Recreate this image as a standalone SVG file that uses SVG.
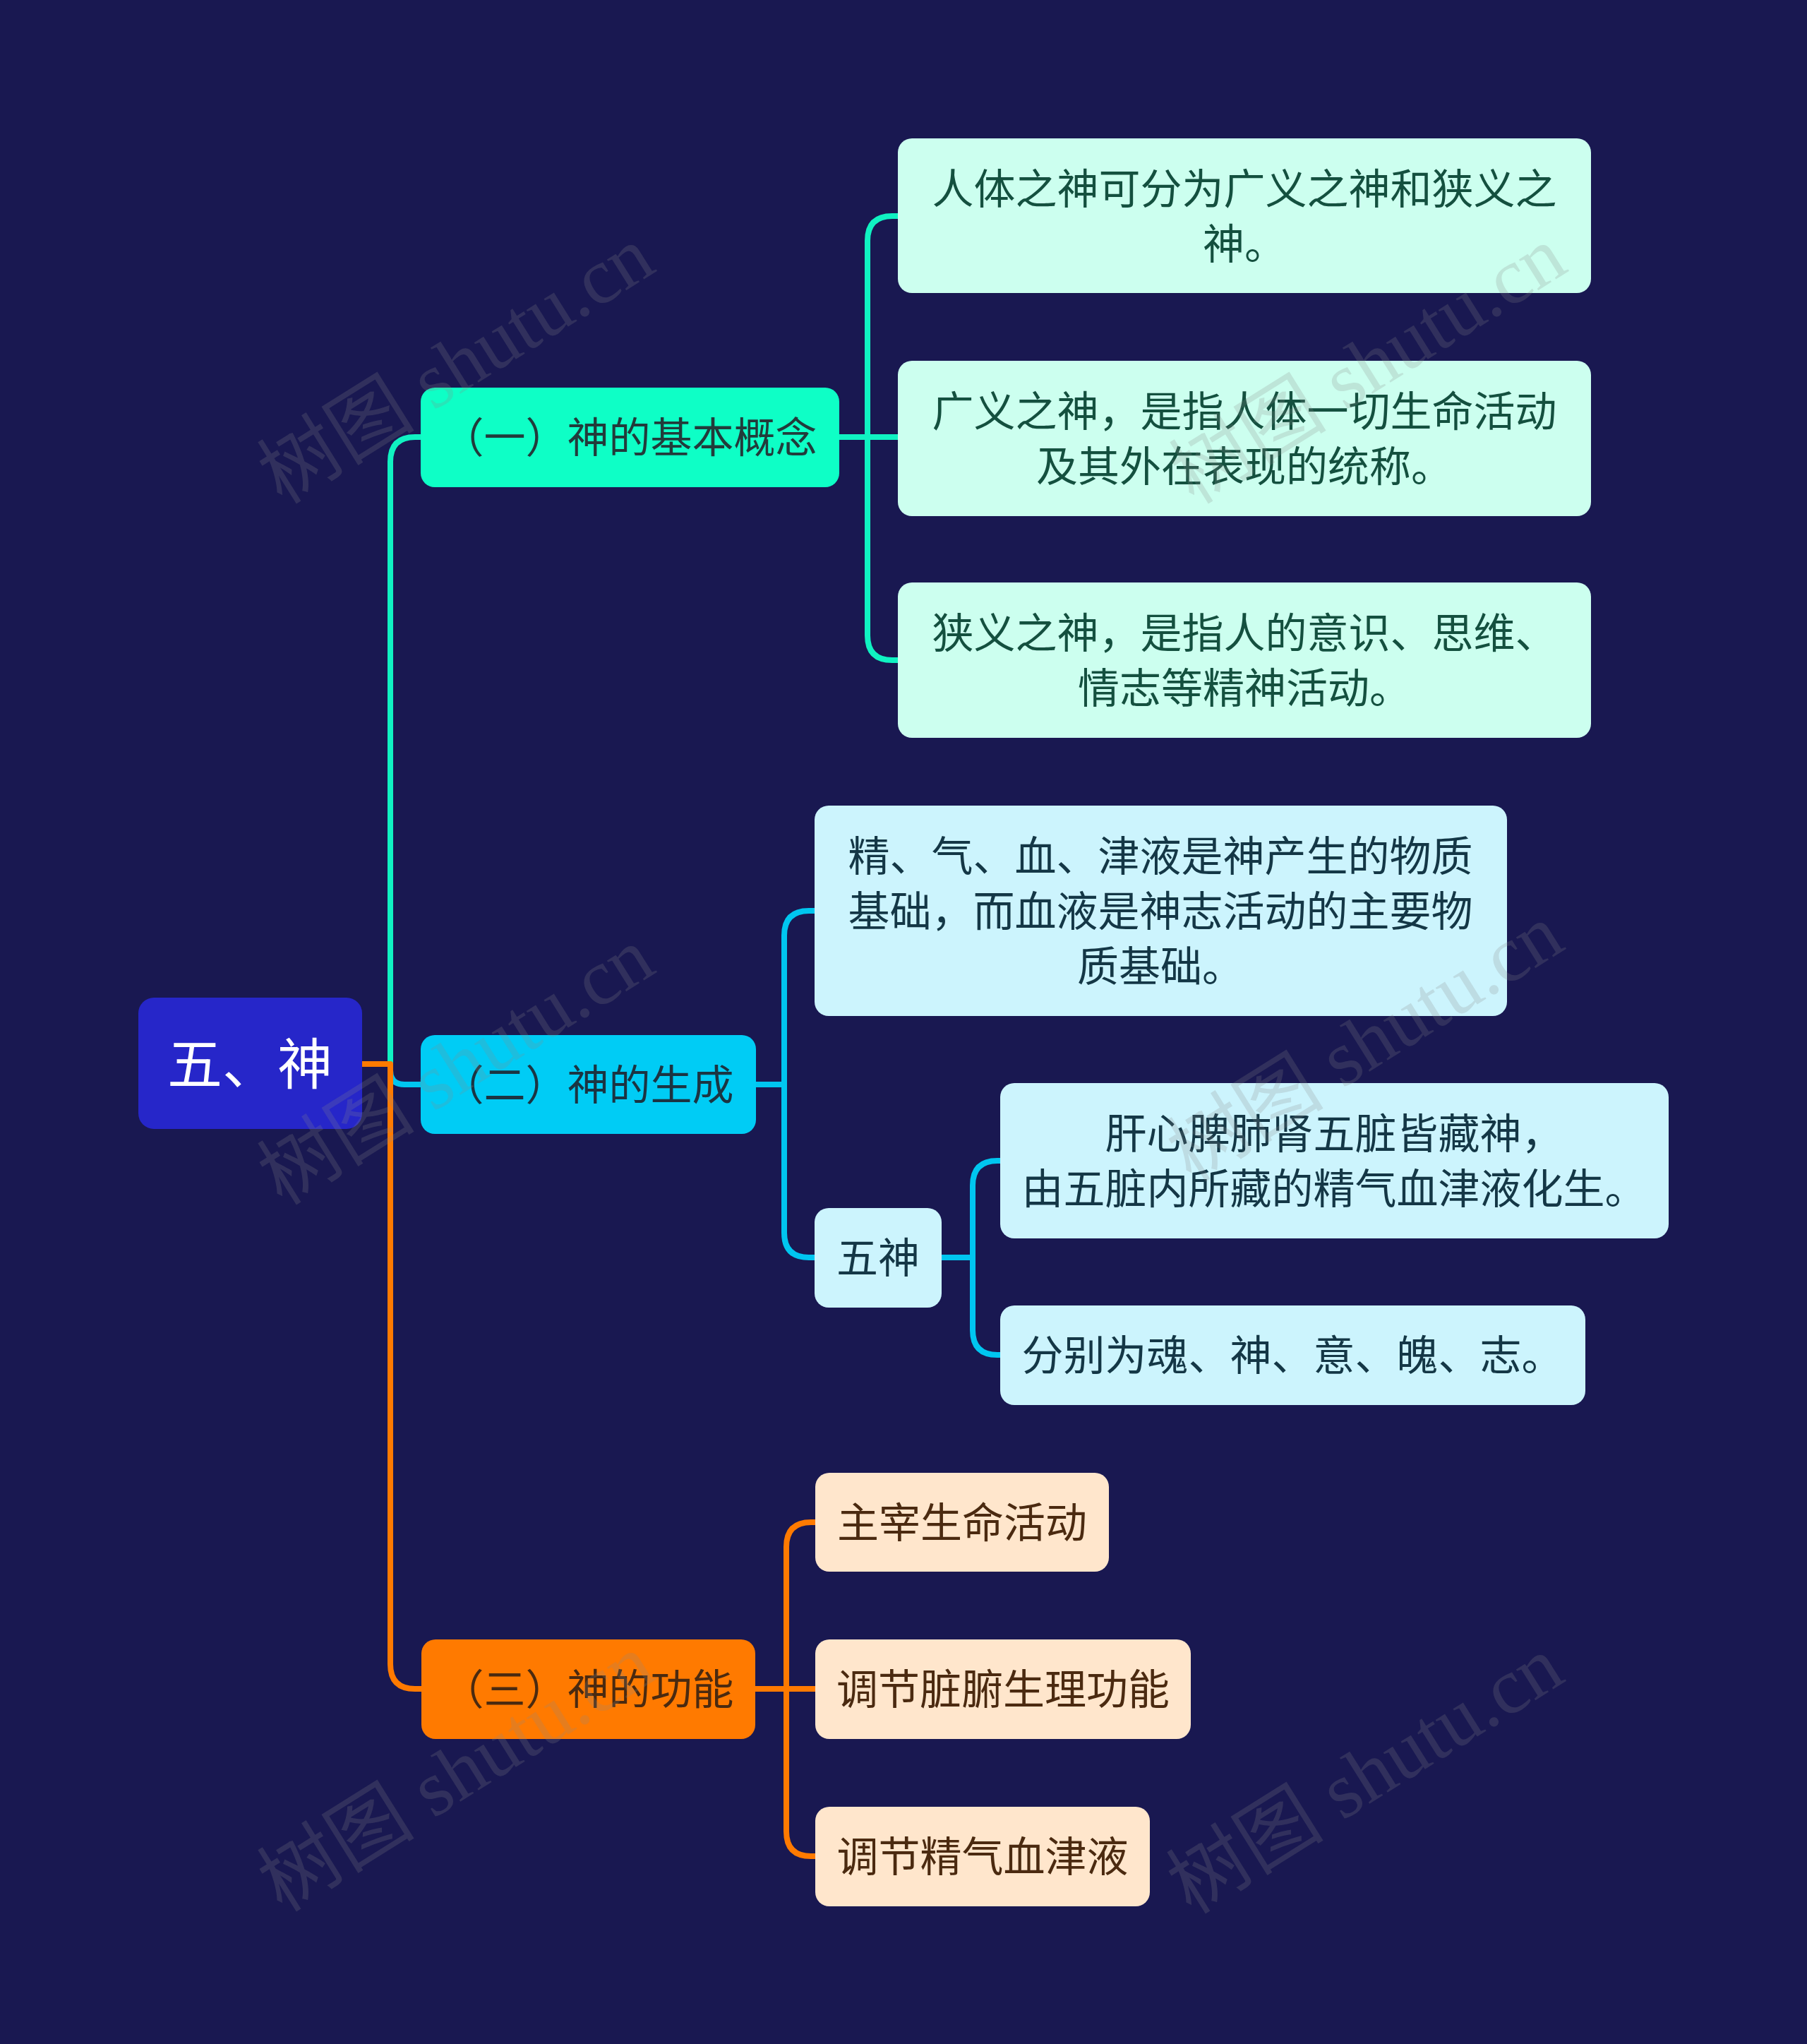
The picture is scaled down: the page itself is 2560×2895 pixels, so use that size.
<svg xmlns="http://www.w3.org/2000/svg" width="2560" height="2895" viewBox="0 0 2560 2895">
<style>
text{font-family:"Noto Sans CJK SC","Noto Sans",sans-serif;text-anchor:middle;dominant-baseline:central}
.c{fill:none;stroke-width:8;stroke-linejoin:round}
.t1{fill:#0EFFC6}.t2{fill:#00CCF5}.t3{fill:#FF7A00}
.l1{fill:#CCFFEF}.l2{fill:#CCF4FD}.l3{fill:#FFE6CC}
.x1{fill:#14503F;font-size:59px}.x2{fill:#143746;font-size:59px}.x3{fill:#4B2A10;font-size:59px}
.wm{font-family:"Liberation Serif","Noto Sans CJK SC",serif;font-size:112px;fill:#8a8a8a;fill-opacity:0.22}
</style>
<rect width="2560" height="2895" fill="#191851"/>
<g id="connectors">
<path class="c" stroke="#10F2C2" d="M513,1507H553V654Q553,619 588,619H596"/>
<path class="c" stroke="#00C6F0" d="M513,1507H553V1516Q553,1536 573,1536H596"/>
<path class="c" stroke="#FF7A00" d="M513,1507H553V2357Q553,2392 588,2392H597"/>
<path class="c" stroke="#10F2C2" d="M1189,619H1229V341Q1229,306 1264,306H1272M1189,619H1272M1229,619V900Q1229,935 1264,935H1272"/>
<path class="c" stroke="#00C6F0" d="M1071,1536H1111V1325Q1111,1290 1146,1290H1154M1111,1536V1746Q1111,1781 1146,1781H1154"/>
<path class="c" stroke="#00C6F0" d="M1334,1781H1378V1679Q1378,1644 1413,1644H1417M1378,1781V1884Q1378,1919 1413,1919H1417"/>
<path class="c" stroke="#FF7A00" d="M1070,2392H1114V2191Q1114,2156 1149,2156H1155M1070,2392H1155M1114,2392V2594Q1114,2629 1149,2629H1155"/>
</g>
<g id="root">
<rect x="196" y="1413" width="317" height="186" rx="22" fill="#2626C9"/>
<text x="354" y="1502" style="fill:#ffffff;font-size:78px">五、神</text>
</g>
<g id="b1">
<rect class="t1" x="596" y="549" width="593" height="141" rx="20"/>
<text x="892" y="615" style="fill:#223B3B;font-size:59px">（一）神的基本概念</text>
</g>
<g id="b2">
<rect class="t2" x="596" y="1466" width="475" height="140" rx="20"/>
<text x="833" y="1532" style="fill:#1B3442;font-size:59px">（二）神的生成</text>
</g>
<g id="b3">
<rect class="t3" x="597" y="2322" width="473" height="141" rx="20"/>
<text x="833" y="2388" style="fill:#4A2A10;font-size:59px">（三）神的功能</text>
</g>
<g id="b1l1">
<rect class="l1" x="1272" y="196" width="982" height="219" rx="20"/>
<text class="x1" x="1763" y="263">人体之神可分为广义之神和狭义之</text>
<text class="x1" x="1763" y="341">神。</text>
</g>
<g id="b1l2">
<rect class="l1" x="1272" y="511" width="982" height="220" rx="20"/>
<text class="x1" x="1763" y="578">广义之神，是指人体一切生命活动</text>
<text class="x1" x="1763" y="656">及其外在表现的统称。</text>
</g>
<g id="b1l3">
<rect class="l1" x="1272" y="825" width="982" height="220" rx="20"/>
<text class="x1" x="1763" y="892">狭义之神，是指人的意识、思维、</text>
<text class="x1" x="1763" y="970">情志等精神活动。</text>
</g>
<g id="b2l1">
<rect class="l2" x="1154" y="1141" width="981" height="298" rx="20"/>
<text class="x2" x="1644" y="1208">精、气、血、津液是神产生的物质</text>
<text class="x2" x="1644" y="1286">基础，而血液是神志活动的主要物</text>
<text class="x2" x="1644" y="1364">质基础。</text>
</g>
<g id="b2l2">
<rect class="l2" x="1154" y="1711" width="180" height="141" rx="20"/>
<text class="x2" x="1244" y="1777">五神</text>
</g>
<g id="b2l2a">
<rect class="l2" x="1417" y="1534" width="947" height="220" rx="20"/>
<text class="x2" x="1890" y="1601">肝心脾肺肾五脏皆藏神，</text>
<text class="x2" x="1890" y="1679">由五脏内所藏的精气血津液化生。</text>
</g>
<g id="b2l2b">
<rect class="l2" x="1417" y="1849" width="829" height="141" rx="20"/>
<text class="x2" x="1831" y="1915">分别为魂、神、意、魄、志。</text>
</g>
<g id="b3l1">
<rect class="l3" x="1155" y="2086" width="416" height="140" rx="20"/>
<text class="x3" x="1363" y="2152">主宰生命活动</text>
</g>
<g id="b3l2">
<rect class="l3" x="1155" y="2322" width="532" height="141" rx="20"/>
<text class="x3" x="1421" y="2388">调节脏腑生理功能</text>
</g>
<g id="b3l3">
<rect class="l3" x="1155" y="2559" width="474" height="141" rx="20"/>
<text class="x3" x="1392" y="2625">调节精气血津液</text>
</g>
<g id="watermarks">
<text class="wm" transform="translate(646,517) rotate(-32)">树图 shutu.cn</text>
<text class="wm" transform="translate(646,1510) rotate(-32)">树图 shutu.cn</text>
<text class="wm" transform="translate(646,2511) rotate(-32)">树图 shutu.cn</text>
<text class="wm" transform="translate(1938,517) rotate(-32)">树图 shutu.cn</text>
<text class="wm" transform="translate(1934,1477) rotate(-32)">树图 shutu.cn</text>
<text class="wm" transform="translate(1934,2514) rotate(-32)">树图 shutu.cn</text>
</g>
</svg>
